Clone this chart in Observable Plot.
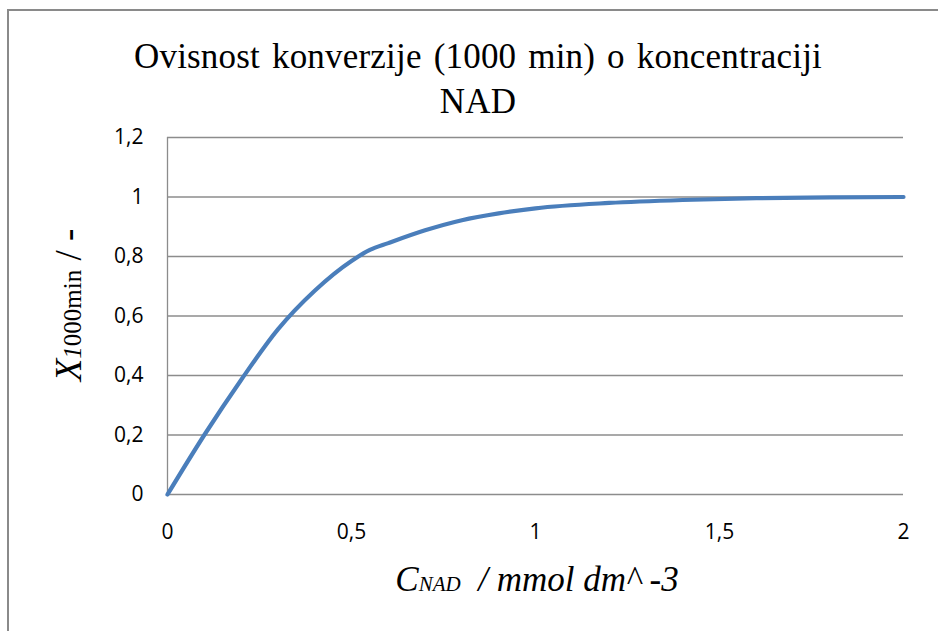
<!DOCTYPE html>
<html>
<head>
<meta charset="utf-8">
<script src="https://cdn.jsdelivr.net/npm/d3@7"></script>
<script src="https://cdn.jsdelivr.net/npm/@observablehq/plot@0.6"></script>
<style>
  html, body { margin: 0; padding: 0; background: #fff; }
  #wrap { position: relative; width: 938px; height: 631px; overflow: hidden; background: #fff; }
  #frame { position: absolute; left: 7px; top: 9px; width: 1000px; height: 700px;
           border-top: 2px solid #8a8a8a; border-left: 2px solid #8a8a8a; }
  #title { position: absolute; left: 0; top: 34px; width: 956px; text-align: center;
           font-family: "Liberation Serif", "Times New Roman", serif; font-size: 35px;
           word-spacing: 3px; letter-spacing: 0.2px;
           line-height: 45px; color: #000; }
  #ylab { position: absolute; left: 68px; top: 305px; transform: translate(-50%, -50%) rotate(-90deg);
          white-space: nowrap; font-family: "Liberation Serif", serif; font-size: 37px; color: #000; }
  #xlab { position: absolute; left: 537px; top: 580px; transform: translate(-50%, -50%);
          white-space: nowrap; font-family: "Liberation Serif", serif; font-size: 35px; font-style: italic; color: #000; }
  #plot { position: absolute; left: 0; top: 0; }
</style>
</head>
<body>
<div id="wrap">
  <div id="frame"></div>
  <div id="plot"></div>
  <div id="title">Ovisnost konverzije (1000 min) o koncentraciji<br>NAD</div>
  <div id="ylab"><i>X</i><span style="font-size:25px"><i>1</i>000min</span> / -</div>
  <div id="xlab">C<span style="font-size:21px">NAD</span>&nbsp;&nbsp;/ mmol dm^ -3</div>
</div>
<script>
const cNAD = [0, 0.1, 0.2, 0.3, 0.4, 0.5, 0.55, 0.6, 0.7, 0.8, 0.9, 1.0, 1.2, 1.4, 1.6, 1.8, 2.0];
const conversion = [0, 0.20, 0.385, 0.555, 0.685, 0.785, 0.822, 0.845, 0.888, 0.922, 0.945, 0.962, 0.980, 0.990, 0.996, 0.999, 1.0];
const yTicks = [0, 0.2, 0.4, 0.6, 0.8, 1.0, 1.2];
const xTicks = [0, 0.5, 1, 1.5, 2];

const data = cNAD.map((c, i) => ({c, x: conversion[i]}));
const fmt = d => String(+d.toFixed(1)).replace(".", ",");

const chart = Plot.plot({
  width: 938,
  height: 631,
  marginLeft: 167,
  marginRight: 35,
  marginTop: 137,
  marginBottom: 137,
  x: {domain: [0, 2], ticks: xTicks, tickFormat: fmt, tickSize: 0, tickPadding: 30, label: null},
  y: {domain: [0, 1.2], ticks: yTicks, tickFormat: fmt, tickSize: 0, tickPadding: 24, label: null},
  style: {fontFamily: "'Open Sans', sans-serif", fontSize: "21px", color: "#000", background: "transparent"},
  marks: [
    Plot.ruleY(yTicks, {stroke: "#8c8c8c", strokeWidth: 1.3}),
    Plot.ruleX([0], {y1: 0, y2: 1.2, stroke: "#8c8c8c", strokeWidth: 1.3}),
    Plot.axisX({ticks: xTicks, tickFormat: fmt, tickSize: 0, tickPadding: 30, label: null, fill: "#000", fontSize: 21}),
    Plot.axisY({ticks: yTicks, tickFormat: fmt, tickSize: 0, tickPadding: 24, label: null, fill: "#000", fontSize: 21}),
    Plot.line(data, {x: "c", y: "x", stroke: "#4a7ebb", strokeWidth: 4.2, curve: "monotone-x"})
  ]
});
document.getElementById("plot").appendChild(chart);
</script>
</body>
</html>
